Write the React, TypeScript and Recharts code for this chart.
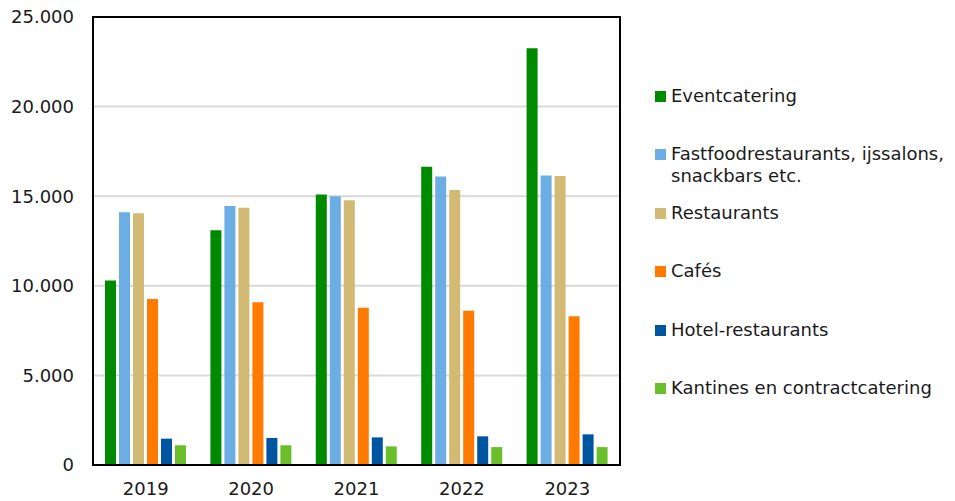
import { BarChart, Bar, XAxis, YAxis, CartesianGrid, Legend, ReferenceArea } from 'recharts'

const years = ['2019', '2020', '2021', '2022', '2023']

const eventcatering = [10300, 13100, 15100, 16650, 23250]
const fastfood = [14100, 14450, 15000, 16100, 16150]
const restaurants = [14050, 14350, 14780, 15350, 16130]
const cafes = [9270, 9080, 8780, 8610, 8300]
const hotelRestaurants = [1470, 1510, 1540, 1600, 1710]
const kantines = [1100, 1100, 1040, 1000, 1000]

const yTicks = [0, 5000, 10000, 15000, 20000, 25000]

const series = [
  { key: 'event', name: 'Eventcatering', values: eventcatering, color: '#008a00' },
  { key: 'fastfood', name: 'Fastfoodrestaurants, ijssalons, snackbars etc.', values: fastfood, color: '#6caee3' },
  { key: 'rest', name: 'Restaurants', values: restaurants, color: '#d2b974' },
  { key: 'cafe', name: 'Cafés', values: cafes, color: '#ff7a00' },
  { key: 'hotel', name: 'Hotel-restaurants', values: hotelRestaurants, color: '#0055a0' },
  { key: 'kantine', name: 'Kantines en contractcatering', values: kantines, color: '#6abf2a' },
]

const data = years.map((year, i) => {
  const row: Record<string, string | number> = { year }
  series.forEach(s => { row[s.key] = s.values[i] })
  return row
})

const FONT = '"DejaVu Sans", Verdana, sans-serif'
const TEXT = '#1a1a1a'

const fmt = (v: number) => String(v).replace(/\B(?=(\d{3})+(?!\d))/g, '.')

function SideLegend() {
  return (
    <div style={{ fontFamily: FONT, fontSize: 18, color: TEXT, lineHeight: '22px' }}>
      {series.map(s => (
        <div key={s.key} style={{ height: 58.4, display: 'flex', alignItems: 'flex-start' }}>
          <span style={{ width: 11, height: 11, background: s.color, marginTop: 6, marginRight: 5, flex: 'none' }} />
          <span style={{ width: 290 }}>{s.name}</span>
        </div>
      ))}
    </div>
  )
}

export default function App() {
  return (
    <div style={{ position: 'absolute', left: 0, top: 0 }}>
      <BarChart
        width={955}
        height={501}
        data={data}
        margin={{ top: 17, right: 35, bottom: 0, left: 0 }}
        barSize={11}
        barGap={3}
      >
        <CartesianGrid vertical={false} stroke="#d9d9d9" strokeWidth={2} />
        <XAxis
          dataKey="year"
          height={36}
          tick={{ fill: TEXT, fontSize: 18, fontFamily: FONT }}
          tickLine={false}
          tickMargin={11}
          axisLine={{ stroke: '#000', strokeWidth: 2 }}
        />
        <YAxis
          width={93}
          domain={[0, 25000]}
          ticks={yTicks}
          interval={0}
          tickFormatter={fmt}
          tick={{ fill: TEXT, fontSize: 18, fontFamily: FONT }}
          tickLine={false}
          tickMargin={13}
          axisLine={{ stroke: '#000', strokeWidth: 2 }}
        />
        <Legend
          layout="vertical"
          align="right"
          verticalAlign="top"
          wrapperStyle={{ left: 655, top: 85, width: 300 }}
          content={() => <SideLegend />}
        />
        {series.map(s => (
          <Bar key={s.key} dataKey={s.key} name={s.name} fill={s.color} isAnimationActive={false} />
        ))}
        <ReferenceArea y1={0} y2={25000} fill="none" stroke="#000" strokeWidth={2} ifOverflow="visible" />
      </BarChart>
    </div>
  )
}
